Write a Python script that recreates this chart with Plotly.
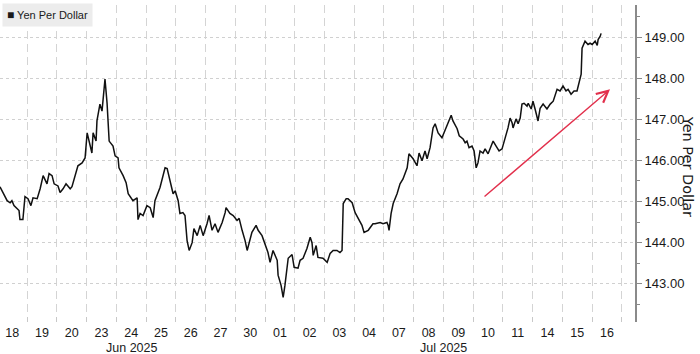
import plotly.graph_objects as go

# Trading-day labels (one slot per session)
day_labels = ["18", "19", "20", "23", "24", "25", "26", "27", "30", "01", "02",
              "03", "04", "07", "08", "09", "10", "11", "14", "15", "16"]
month_labels = ["Jun 2025", "Jul 2025"]
month_pos = [4.5, 15.0]

# Position along the session axis (slot index + fraction of session)
t = [0.09, 0.19, 0.33, 0.43, 0.49, 0.56, 0.66, 0.73, 0.76, 0.86, 0.93, 1.03, 1.13, 1.20,
     1.34, 1.44, 1.54, 1.67, 1.74, 1.84, 1.91, 2.04, 2.11, 2.21, 2.31, 2.45, 2.51, 2.61,
     2.71, 2.85, 2.95, 3.02, 3.08, 3.18, 3.22, 3.32, 3.35, 3.45, 3.52, 3.59, 3.62, 3.69,
     3.76, 3.89, 3.96, 4.06, 4.09, 4.23, 4.33, 4.40, 4.50, 4.56, 4.70, 4.73, 4.80, 4.90,
     5.03, 5.14, 5.24, 5.30, 5.47, 5.64, 5.71, 5.81, 5.91, 5.98, 6.08, 6.14, 6.24, 6.31,
     6.38, 6.45, 6.55, 6.61, 6.72, 6.82, 6.92, 7.05, 7.12, 7.22, 7.32, 7.42, 7.56, 7.66,
     7.69, 7.82, 7.93, 8.06, 8.13, 8.23, 8.33, 8.40, 8.50, 8.56, 8.70, 8.77, 8.90, 9.00,
     9.10, 9.17, 9.27, 9.41, 9.44, 9.54, 9.61, 9.67, 9.74, 9.78, 9.91, 9.98, 10.11, 10.18,
     10.28, 10.41, 10.52, 10.58, 10.62, 10.72, 10.78, 10.95, 11.09, 11.19, 11.29, 11.42,
     11.52, 11.59, 11.63, 11.73, 11.79, 11.93, 12.03, 12.13, 12.26, 12.33, 12.47, 12.63,
     12.70, 12.87, 12.97, 13.10, 13.14, 13.17, 13.24, 13.31, 13.44, 13.54, 13.64, 13.78,
     13.84, 13.98, 14.11, 14.18, 14.28, 14.38, 14.45, 14.55, 14.65, 14.72, 14.82, 14.95,
     15.05, 15.12, 15.26, 15.32, 15.46, 15.53, 15.66, 15.73, 15.79, 15.86, 15.96, 16.03,
     16.10, 16.16, 16.23, 16.33, 16.40, 16.50, 16.60, 16.67, 16.77, 16.87, 16.97, 17.07,
     17.17, 17.24, 17.31, 17.34, 17.44, 17.51, 17.58, 17.64, 17.71, 17.81, 17.85, 17.95,
     18.01, 18.08, 18.18, 18.25, 18.35, 18.48, 18.59, 18.69, 18.82, 18.92, 19.02, 19.12,
     19.19, 19.29, 19.39, 19.49, 19.56, 19.63, 19.66, 19.76, 19.86, 19.93, 20.00, 20.10,
     20.17, 20.20, 20.27, 20.30]

yen = [145.36, 145.22, 145.02, 144.97, 145.02, 144.90, 144.83, 144.78, 144.56, 144.56,
       145.12, 145.07, 144.90, 145.09, 145.07, 145.31, 145.63, 145.43, 145.68, 145.63,
       145.43, 145.38, 145.22, 145.31, 145.43, 145.31, 145.36, 145.63, 145.87, 145.94,
       146.06, 146.67, 146.47, 146.18, 146.67, 146.47, 146.96, 147.37, 147.20, 147.93,
       147.98, 147.39, 146.47, 146.35, 146.11, 146.06, 145.82, 145.63, 145.46, 145.19,
       145.07, 145.02, 145.09, 144.56, 144.71, 144.66, 144.90, 144.85, 144.61, 145.02,
       145.34, 145.82, 145.80, 145.46, 145.19, 145.26, 145.02, 144.71, 144.73, 144.66,
       144.05, 143.81, 144.00, 144.34, 144.17, 144.42, 144.17, 144.46, 144.66, 144.30,
       144.46, 144.25, 144.49, 144.73, 144.85, 144.71, 144.66, 144.54, 144.59, 144.30,
       144.05, 143.81, 144.10, 144.25, 144.42, 144.30, 144.17, 143.98, 143.76, 143.52,
       143.81, 143.57, 143.21, 142.96, 142.67, 142.96, 143.33, 143.62, 143.71, 143.40,
       143.38, 143.57, 143.62, 143.86, 144.13, 144.00, 143.69, 143.93, 143.64, 143.62,
       143.52, 143.74, 143.81, 143.81, 143.76, 143.81, 144.95, 145.07, 145.07, 144.97,
       144.73, 144.59, 144.42, 144.25, 144.30, 144.46, 144.46, 144.49, 144.46, 144.49,
       144.42, 144.30, 144.71, 144.95, 145.19, 145.43, 145.55, 145.82, 146.16, 146.04,
       145.87, 146.18, 145.99, 146.23, 146.04, 146.31, 146.79, 146.89, 146.67, 146.55,
       146.72, 146.84, 147.10, 146.96, 146.77, 146.60, 146.52, 146.43, 146.47, 146.31,
       146.35, 146.23, 145.82, 145.94, 146.23, 146.18, 146.28, 146.16, 146.35, 146.47,
       146.35, 146.23, 146.28, 146.52, 146.79, 147.03, 146.91, 146.79, 147.01, 146.89,
       147.03, 147.37, 147.39, 147.32, 147.39, 147.25, 147.44, 147.25, 146.96, 147.27,
       147.37, 147.25, 147.37, 147.44, 147.73, 147.69, 147.81, 147.69, 147.73, 147.61,
       147.69, 147.69, 147.88, 148.10, 148.73, 148.90, 148.82, 148.85, 148.82, 148.90,
       148.80, 148.94, 149.02, 149.09]

# Trend arrow endpoints (session position, yen)
arrow_start = (16.33, 145.09)
arrow_end = (20.60, 147.73)

y_ticks = [143, 144, 145, 146, 147, 148, 149]

FONT = "Liberation Sans"

fig = go.Figure()
fig.add_trace(go.Scatter(
    x=t, y=yen, mode="lines",
    line=dict(color="#111111", width=1.5),
    showlegend=False, hoverinfo="skip",
))

fig.update_layout(
    width=700, height=354,
    margin=dict(l=0, r=65, t=5, b=32),
    paper_bgcolor="white", plot_bgcolor="white",
    font=dict(family=FONT, size=13, color="#1a1a1a"),
    xaxis=dict(
        range=[0.09, 21.44],
        tickmode="array",
        tickvals=[i + 0.5 for i in range(len(day_labels))],
        ticktext=day_labels,
        ticks="", showgrid=False, zeroline=False, showline=False,
        tickfont=dict(family=FONT, size=12.5, color="#1a1a1a"),
        ticklabelstandoff=1,
        minor=dict(
            tickmode="linear", tick0=0, dtick=1,
            showgrid=True, gridcolor="#d4d4d4", gridwidth=1, griddash="8px,5px",
            ticks="inside", ticklen=5, tickcolor="#c8c8c8",
        ),
    ),
    yaxis=dict(
        side="right",
        range=[142.07, 149.78],
        tickmode="array",
        tickvals=y_ticks,
        ticktext=[f"{v:.2f}" for v in y_ticks],
        showgrid=True, gridcolor="#d0d0d0", gridwidth=1, griddash="dot",
        zeroline=False,
        showline=True, linecolor="#8a8a8a", linewidth=2,
        ticks="outside", ticklen=5, tickcolor="#8a8a8a", tickwidth=1,
        tickfont=dict(family=FONT, size=13, color="#1a1a1a"),
        minor=dict(tickmode="linear", tick0=142.5, dtick=1, ticks="outside",
                   ticklen=3, tickcolor="#8a8a8a", showgrid=False),
    ),
)

annotations = []
for lbl, pos in zip(month_labels, month_pos):
    annotations.append(dict(
        x=pos, y=-0.053, xref="x", yref="paper", text=lbl, showarrow=False,
        xanchor="center", yanchor="top",
        font=dict(family=FONT, size=12.5, color="#1a1a1a"),
    ))
annotations.append(dict(
    x=1.084, y=0.492, xref="paper", yref="paper", text="Yen Per Dollar",
    textangle=90, showarrow=False, xanchor="center", yanchor="middle",
    font=dict(family="DejaVu Sans", size=14.5, color="#1a1a1a"),
))
annotations.append(dict(
    x=0.003, y=1.006, xref="paper", yref="paper",
    text="<span style='font-size:12px'>■</span> Yen Per Dollar",
    showarrow=False, xanchor="left", yanchor="top",
    bgcolor="#ececec", borderpad=4,
    font=dict(family=FONT, size=11, color="#1a1a1a"),
))
annotations.append(dict(
    x=arrow_end[0], y=arrow_end[1], xref="x", yref="y",
    ax=arrow_start[0], ay=arrow_start[1], axref="x", ayref="y",
    showarrow=True, arrowhead=5, arrowsize=1.6, arrowwidth=1.4,
    arrowcolor="#e2304c", text="",
))
fig.update_layout(annotations=annotations)

fig.write_html("out.html")
